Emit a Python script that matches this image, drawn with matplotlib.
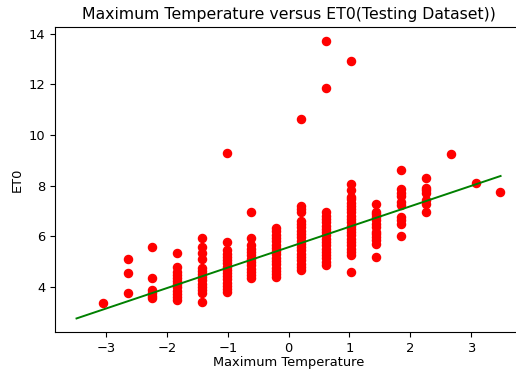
import numpy as np
import matplotlib
matplotlib.use('Agg')
import matplotlib.pyplot as plt

# scaled maximum temperature levels in the test split
temp_levels = [-3.06, -2.65, -2.24, -1.83, -1.42, -1.01, -0.61, -0.20, 0.21,
               0.62, 1.03, 1.44, 1.85, 2.26, 2.67, 3.08, 3.48]

# observed ET0 at each temperature level
et0_levels = [
    [3.35],
    [3.74, 4.53, 5.08],
    [3.55, 3.65, 3.75, 3.87, 4.33, 5.58],
    [3.47, 3.60, 3.72, 3.85, 3.98, 4.10, 4.22, 4.35, 4.47, 4.59, 4.79, 5.34],
    [3.41, 3.74, 3.87, 4.00, 4.12, 4.25, 4.37, 4.50, 4.62, 4.73, 5.08, 5.32,
     5.58, 5.91],
    [3.80, 3.92, 4.05, 4.17, 4.30, 4.42, 4.55, 4.67, 4.80, 4.93, 5.05, 5.18,
     5.30, 5.45, 5.78, 9.29],
    [4.33, 4.46, 4.59, 4.72, 4.85, 4.98, 5.11, 5.24, 5.37, 5.50, 5.64, 5.91,
     6.96],
    [4.37, 4.50, 4.63, 4.76, 4.89, 5.02, 5.15, 5.28, 5.41, 5.54, 5.67, 5.80,
     5.93, 6.06, 6.19, 6.31],
    [4.66, 4.79, 4.92, 5.05, 5.18, 5.31, 5.44, 5.57, 5.70, 5.83, 5.96, 6.09,
     6.22, 6.35, 6.48, 6.60, 6.96, 7.09, 7.20, 10.65],
    [4.86, 4.99, 5.12, 5.25, 5.38, 5.51, 5.64, 5.77, 5.90, 6.03, 6.16, 6.29,
     6.42, 6.55, 6.68, 6.81, 6.96, 11.85, 13.71],
    [4.59, 5.25, 5.38, 5.51, 5.64, 5.77, 5.90, 6.03, 6.16, 6.29, 6.42, 6.55,
     6.68, 6.81, 6.94, 7.07, 7.20, 7.33, 7.46, 7.55, 7.82, 8.08, 12.93],
    [5.18, 5.71, 5.84, 5.97, 6.10, 6.17, 6.37, 6.50, 6.63, 6.76, 6.89, 6.96,
     7.29],
    [6.02, 6.50, 6.63, 6.77, 7.22, 7.36, 7.59, 7.72, 7.85, 8.60],
    [6.96, 7.29, 7.42, 7.72, 7.82, 7.92, 8.31],
    [9.25],
    [8.10],
    [7.75],
]

# fitted regression line
fit_x = [-3.49, 3.49]
fit_y = [2.75, 8.38]

max_temp = np.concatenate([[t] * len(v) for t, v in zip(temp_levels, et0_levels)])
et0 = np.concatenate(et0_levels)

plt.rcParams['font.size'] = 9.4

fig = plt.figure(figsize=(5.16, 3.72), dpi=100)
ax = fig.add_axes([0.1072, 0.1067, 0.904, 0.82])
ax.scatter(max_temp, et0, color='red', s=34)
ax.plot(fit_x, fit_y, color='green', linewidth=1.4)
ax.set_title('Maximum Temperature versus ET0(Testing Dataset))', fontsize=11.3)
ax.set_xlabel('Maximum Temperature', labelpad=1)
ax.set_ylabel('ET0')

fig.savefig('out.png', dpi=100)
